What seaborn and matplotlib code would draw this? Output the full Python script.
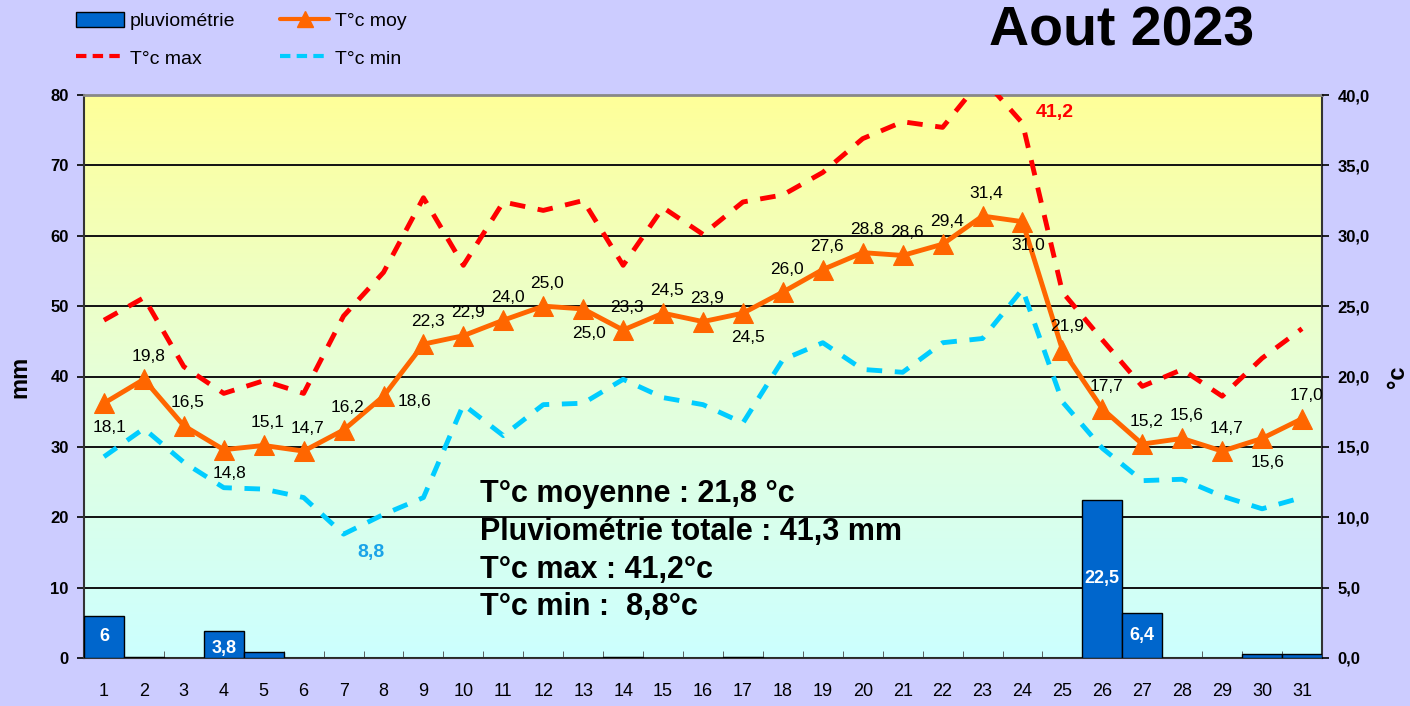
import numpy as np
import pandas as pd
import matplotlib
matplotlib.use('Agg')
import matplotlib.pyplot as plt
import seaborn as sns
from matplotlib.patches import Patch
from matplotlib.lines import Line2D
from matplotlib.colors import LinearSegmentedColormap
from matplotlib.ticker import FuncFormatter, MultipleLocator, FixedLocator

# Data
days = list(range(1, 32))
pluvio = [6, 0.2, 0, 3.8, 0.8, 0, 0, 0, 0, 0, 0, 0, 0, 0.2, 0, 0,
          0.2, 0, 0, 0, 0, 0, 0, 0, 0, 22.5, 6.4, 0, 0, 0.6, 0.6]
t_moy = [18.1, 19.8, 16.5, 14.8, 15.1, 14.7, 16.2, 18.6, 22.3, 22.9, 24.0,
         25.0, 24.8, 23.3, 24.5, 23.9, 24.5, 26.0, 27.6, 28.8, 28.6, 29.4,
         31.4, 31.0, 21.9, 17.7, 15.2, 15.6, 14.7, 15.6, 17.0]
t_moy_lbl = [18.1, 19.8, 16.5, 14.8, 15.1, 14.7, 16.2, 18.6, 22.3, 22.9, 24.0,
             25.0, 25.0, 23.3, 24.5, 23.9, 24.5, 26.0, 27.6, 28.8, 28.6, 29.4,
             31.4, 31.0, 21.9, 17.7, 15.2, 15.6, 14.7, 15.6, 17.0]
t_max = [24.0, 25.6, 20.7, 18.8, 19.7, 18.8, 24.3, 27.4, 32.7, 27.9, 32.4,
         31.8, 32.5, 27.9, 32.0, 30.1, 32.4, 32.9, 34.5, 36.9, 38.1, 37.7,
         41.2, 38.0, 26.0, 22.6, 19.3, 20.5, 18.6, 21.3, 23.4]
t_min = [14.3, 16.3, 13.9, 12.1, 12.0, 11.4, 8.8, 10.2, 11.4, 18.0, 15.8,
         18.0, 18.1, 19.8, 18.5, 18.0, 16.7, 21.2, 22.4, 20.5, 20.3, 22.4,
         22.7, 26.2, 18.2, 14.9, 12.6, 12.7, 11.5, 10.6, 11.4]
labels_below = [1, 4, 13, 17, 24, 30]
labels_right = [8]

stats = ["T°c moyenne : 21,8 °c", "Pluviométrie totale : 41,3 mm",
         "T°c max : 41,2°c", "T°c min :  8,8°c"]
title = "Aout 2023"

df = pd.DataFrame({'jour': days, 'pluvio': pluvio, 'moy': t_moy,
                   'max': t_max, 'min': t_min})

def comma(v, _=None):
    return f"{v:.1f}".replace('.', ',')

sns.set_style("white")
plt.rcParams['font.family'] = ['Liberation Sans', 'DejaVu Sans']
plt.rcParams['text.color'] = 'black'
plt.rcParams['axes.labelcolor'] = 'black'
plt.rcParams['xtick.color'] = 'black'
plt.rcParams['ytick.color'] = 'black'

BG = '#CCCCFF'
fig = plt.figure(figsize=(14.1, 7.06), dpi=100, facecolor=BG)
ax = fig.add_axes([84 / 1410, 1 - 658 / 706, 1238 / 1410, 563 / 706])

# gradient background of the plot area
grad = LinearSegmentedColormap.from_list('bg', ['#CCFFFF', '#E6FFD9', '#FFFF99'])
ax.imshow(np.linspace(0, 1, 256).reshape(-1, 1), extent=[0.5, 31.5, 0, 80],
          aspect='auto', origin='lower', cmap=grad, zorder=0)

# rain bars
sns.barplot(data=df, x='jour', y='pluvio', native_scale=True, width=1,
            color='#0066CC', saturation=1, edgecolor='black', linewidth=1,
            ax=ax, zorder=3)
for d, v in zip(days, pluvio):
    if v >= 1:
        txt = f"{v:g}".replace('.', ',')
        ax.text(d, min(v / 2, v - 2.4), txt, ha='center', va='center',
                color='white', fontsize=13, fontweight='bold', zorder=4)

ax.set_xlim(0.5, 31.5)
ax.set_ylim(0, 80)
ax.yaxis.set_major_locator(MultipleLocator(10))
for yv in range(10, 80, 10):
    ax.axhline(yv, color='#111111', lw=1.4, zorder=1)
ax.set_xticks(days)
ax.set_xticklabels([str(d) for d in days], fontsize=13)
ax.xaxis.set_minor_locator(FixedLocator(np.arange(1.5, 31.5, 1)))
ax.tick_params(axis='x', which='major', length=0, pad=18)
ax.tick_params(axis='x', which='minor', direction='in', length=5, color='#444444', bottom=True)
ax.tick_params(axis='y', length=5, width=1.2, left=True, pad=6, labelsize=12)
for t in ax.get_yticklabels():
    t.set_fontweight('bold')
ax.set_xlabel('')
ax.set_ylabel('mm', fontsize=17, fontweight='bold', labelpad=14)
for s in ['left', 'right', 'bottom']:
    ax.spines[s].set_color('#333333')
    ax.spines[s].set_linewidth(1.5)
ax.spines['top'].set_color('#888888')
ax.spines['top'].set_linewidth(2)

# temperatures on right axis
ax2 = ax.twinx()
ax2.set_ylim(0, 40)
sns.lineplot(data=df, x='jour', y='max', ax=ax2, color='#FF0000', linewidth=3.5,
             linestyle=(0, (3.2, 2.6)))
sns.lineplot(data=df, x='jour', y='min', ax=ax2, color='#00CCFF', linewidth=3.5,
             linestyle=(0, (3.2, 2.6)))
sns.lineplot(data=df, x='jour', y='moy', ax=ax2, color='#FF6600', linewidth=3.5,
             marker='^', markersize=15, markeredgecolor='#FF6600')
ax2.set_xlim(0.5, 31.5)
ax2.yaxis.set_major_locator(MultipleLocator(5))
ax2.yaxis.set_major_formatter(FuncFormatter(comma))
ax2.tick_params(axis='y', length=5, width=1.2, right=True, pad=6, labelsize=12)
for t in ax2.get_yticklabels():
    t.set_fontweight('bold')
ax2.set_xlabel('')
ax2.set_ylabel('°c', fontsize=17, fontweight='bold', labelpad=12)
for s in ax2.spines.values():
    s.set_visible(False)

for d, v, lb in zip(days, t_moy, t_moy_lbl):
    if d in labels_below:
        off, va = (4, -12), 'top'
    elif d in labels_right:
        off, va = (22, -4), 'center'
    else:
        off, va = (3, 11), 'bottom'
    ax2.annotate(comma(lb), (d, v), xytext=off, textcoords='offset points',
                 ha='center', va=va, fontsize=12.5)

imax = int(np.argmax(t_max))
ax2.annotate(comma(t_max[imax]), (days[imax], t_max[imax]), xytext=(52, -25),
             textcoords='offset points', ha='center', va='center', color='#FF0000',
             fontsize=14, fontweight='bold', annotation_clip=False)
imin = int(np.argmin(t_min))
ax2.annotate(comma(t_min[imin]), (days[imin], t_min[imin]), xytext=(20, -13),
             textcoords='offset points', ha='center', va='center', color='#1AA3E8',
             fontsize=14, fontweight='bold')

# summary text
fig.text(480 / 1410, 1 - 479 / 706, "\n".join(stats), ha='left', va='top',
         fontsize=22, fontweight='bold', linespacing=1.34)
fig.text(1122 / 1410, 1 - 31 / 706, title, ha='center', va='center',
         fontsize=40, fontweight='bold')

handles = [Patch(facecolor='#0066CC', edgecolor='black', label='pluviométrie'),
           Line2D([], [], color='#FF0000', lw=3, ls=(0, (2.5, 1.5)), label='T°c max'),
           Line2D([], [], color='#FF6600', lw=3, marker='^', markersize=11, label='T°c moy'),
           Line2D([], [], color='#00CCFF', lw=3, ls=(0, (2.5, 1.5)), label='T°c min')]
fig.legend(handles=handles, loc='upper left', bbox_to_anchor=(64 / 1410, 1.0),
           ncol=2, frameon=False, fontsize=14, handlelength=2.5,
           handletextpad=0.3, columnspacing=2.3, labelspacing=1.0,
           handleheight=0.8, borderaxespad=0.2)

fig.savefig('out.png', dpi=100, facecolor=BG)
